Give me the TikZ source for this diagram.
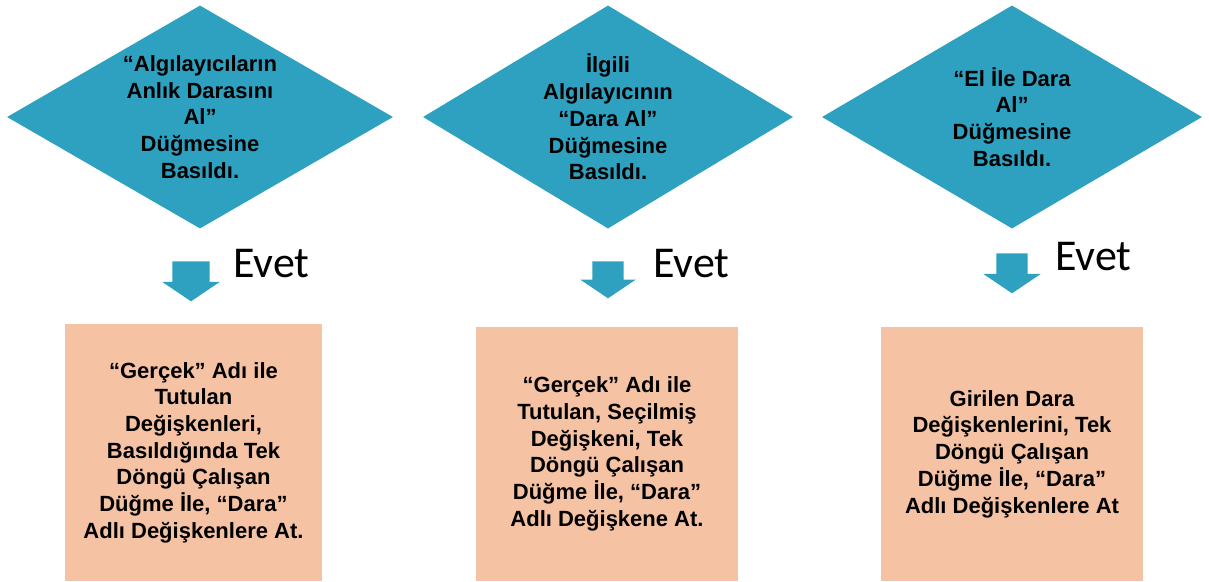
\documentclass[tikz,border=0pt]{standalone}
\usepackage{fontspec}
\setmainfont{Liberation Sans}
\newfontfamily\evetfont{Carlito}
\usepackage{tikz}
\usetikzlibrary{shapes.geometric,shapes.arrows}
\definecolor{tealfill}{HTML}{2DA1BF}
\definecolor{peach}{HTML}{F5C2A4}

\begin{document}
\begin{tikzpicture}[
  x=1pt, y=-1pt,
  decbox/.style={diamond, fill=tealfill, inner sep=0pt, minimum height=223pt},
  dectext/.style={align=center, inner sep=0pt,
    font=\bfseries\fontsize{22}{26.7}\selectfont},
  actbox/.style={fill=peach, align=center, inner sep=0pt,
    font=\bfseries\fontsize{22}{26.7}\selectfont},
  yesarr/.style={single arrow, fill=tealfill, rotate=-90, inner xsep=0pt,
    single arrow tip angle=112},
  yeslbl/.style={anchor=base west, inner sep=0pt,
    font=\evetfont\fontsize{44}{44}\selectfont},
]
\useasboundingbox (0,0) rectangle (1209,581);
% decisions
\foreach \i/\x/\w in {1/200/386, 2/608/370, 3/1012/380}
  \node[decbox, minimum width=\w pt] (d\i) at (\x,117) {};
\node[dectext] (q1) at (d1) {“Algılayıcıların\\Anlık Darasını\\Al”\\Düğmesine\\Basıldı.};
\node[dectext] (q2) at (d2) {İlgili\\Algılayıcının\\“Dara Al”\\Düğmesine\\Basıldı.};
\node[dectext] (q3) at (d3) {“El İle Dara\\Al”\\Düğmesine\\Basıldı.};
% yes arrows
\foreach \i/\x/\y/\l/\s/\e in {1/191/275/40/18.5/10, 2/608/274.5/37/15.5/12, 3/1012/268/40/15.5/13}
  \node[yesarr, minimum height=\l pt, inner ysep=\s pt,
    single arrow head extend=\e pt] (a\i) at (\x,\y) {};
\node[yeslbl] (y1) at (233,277) {Evet};
\node[yeslbl] (y2) at (653,277) {Evet};
\node[yeslbl] (y3) at (1055,270) {Evet};
% actions
\node[actbox, minimum width=257pt, minimum height=257pt] (r1) at (193.5,452.5)
  {“Gerçek” Adı ile\\Tutulan\\Değişkenleri,\\Basıldığında Tek\\Döngü Çalışan\\Düğme İle, “Dara”\\Adlı Değişkenlere At.};
\node[actbox, minimum width=262pt, minimum height=254pt] (r2) at (607,454)
  {“Gerçek” Adı ile\\Tutulan, Seçilmiş\\Değişkeni, Tek\\Döngü Çalışan\\Düğme İle, “Dara”\\Adlı Değişkene At.};
\node[actbox, minimum width=262pt, minimum height=254pt] (r3) at (1012,454)
  {Girilen Dara\\Değişkenlerini, Tek\\Döngü Çalışan\\Düğme İle, “Dara”\\Adlı Değişkenlere At};
\end{tikzpicture}
\end{document}
